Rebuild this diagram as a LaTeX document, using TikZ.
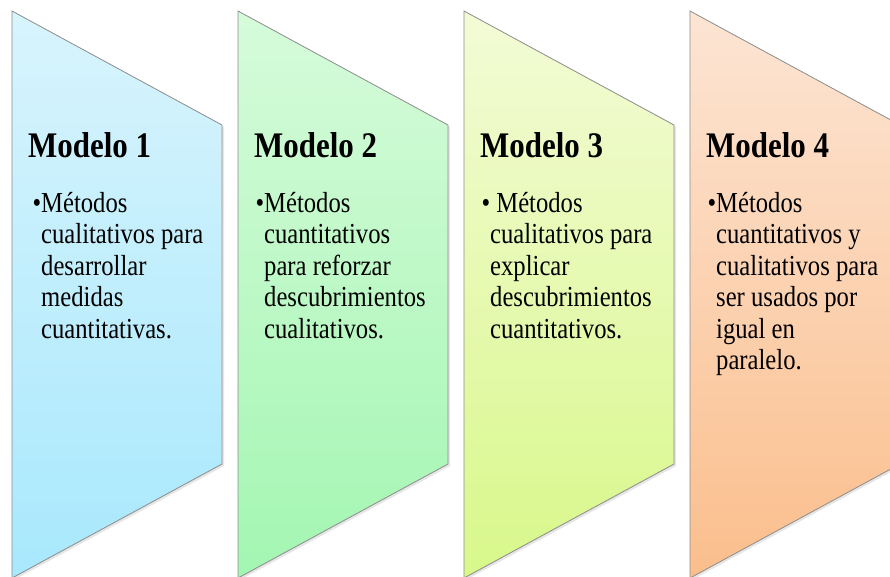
\documentclass[tikz,border=0pt]{standalone}
\usepackage{fontspec}
\setmainfont{Liberation Serif}[FakeStretch=0.85]
\newfontfamily\titlefont{Liberation Serif}[FakeStretch=0.86]
\usepackage{tikz}
\usetikzlibrary{shadows}

\definecolor{blueTop}{RGB}{216,244,253}
\definecolor{blueBot}{RGB}{168,232,253}
\definecolor{greenTop}{RGB}{214,251,218}
\definecolor{greenBot}{RGB}{163,246,178}
\definecolor{limeTop}{RGB}{243,251,214}
\definecolor{limeBot}{RGB}{216,248,138}
\definecolor{peachTop}{RGB}{252,229,212}
\definecolor{peachBot}{RGB}{251,190,140}

\begin{document}
\begin{tikzpicture}[x=1pt, y=-1pt]
    % Define block styles
    \tikzstyle{chevron} = [draw=black!45, line width=0.8pt, drop shadow={opacity=0.2, shadow xshift=2pt, shadow yshift=-2pt}]
    \tikzstyle{title} = [anchor=base west, inner sep=0pt, font=\titlefont\fontsize{36}{40}\selectfont\bfseries]
    \tikzstyle{body} = [anchor=base west, inner sep=0pt, font=\fontsize{29}{31.5}\selectfont]

    \clip (0,0) rectangle (890,576);

    % Shapes
    \path [chevron, top color=blueTop, bottom color=blueBot] (12,11) -- (222,125) -- (222,464) -- (12,578) -- cycle;
    \path [chevron, top color=greenTop, bottom color=greenBot] (238,11) -- (448,125) -- (448,464) -- (238,578) -- cycle;
    \path [chevron, top color=limeTop, bottom color=limeBot] (464,11) -- (674,125) -- (674,464) -- (464,578) -- cycle;
    \path [chevron, top color=peachTop, bottom color=peachBot] (690,11) -- (900,125) -- (900,464) -- (690,578) -- cycle;

    % Nodes
    \node [title] (Modelo_1) at (28,157) {Modelo 1};
    \node [title] (Modelo_2) at (254,157) {Modelo 2};
    \node [title] (Modelo_3) at (480,157) {Modelo 3};
    \node [title] (Modelo_4) at (706,157) {Modelo 4};

    \node [body] (Metodos_1) at (41,212) {\parbox[t]{180pt}{\raggedright\leavevmode\llap{\textbullet}Métodos\\cualitativos para\\desarrollar\\medidas\\cuantitativas.}};
    \node [body] (Metodos_2) at (264,212) {\parbox[t]{180pt}{\raggedright\leavevmode\llap{\textbullet}Métodos\\cuantitativos\\para reforzar\\descubrimientos\\cualitativos.}};
    \node [body] (Metodos_3) at (490,212) {\parbox[t]{180pt}{\raggedright\leavevmode\llap{\textbullet} Métodos\\cualitativos para\\explicar\\descubrimientos\\cuantitativos.}};
    \node [body] (Metodos_4) at (716,212) {\parbox[t]{180pt}{\raggedright\leavevmode\llap{\textbullet}Métodos\\cuantitativos y\\cualitativos para\\ser usados por\\igual en\\paralelo.}};

\end{tikzpicture}
\end{document}
